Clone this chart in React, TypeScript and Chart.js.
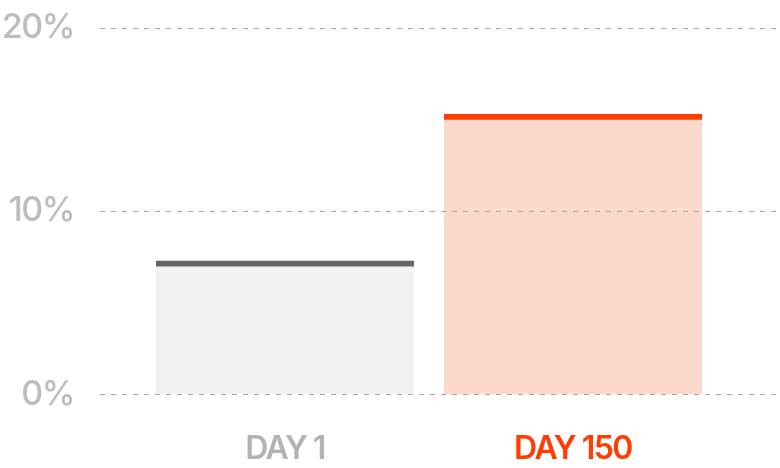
import React, { useEffect, useRef } from "react";
import { Chart, registerables } from "chart.js";

Chart.register(...registerables);

const categories = ["DAY 1", "DAY 150"];
const positions = [1, 2];
const values = [7.3, 15.3];
const yTicks = [0, 10, 20];

const fillColors = ["#f2f2f2", "#fdd9cc"];
const capColors = ["#666666", "#ff3d00"];
const labelColors = ["#b3b3b3", "#ff3d00"];

export default function App() {
  const ref = useRef<HTMLCanvasElement | null>(null);

  useEffect(() => {
    if (!ref.current) return;
    const spacingPlugin = {
      id: "spacing",
      beforeDraw(chart: any) {
        (chart.ctx as any).letterSpacing = "-1.5px";
      },
    };
    const chart = new Chart(ref.current, {
      type: "bar",
      data: {
        datasets: [
          {
            data: positions.map((x, i) => ({ x, y: values[i] })),
            backgroundColor: fillColors,
            borderColor: capColors,
            borderWidth: { top: 6, left: 0, right: 0, bottom: 0 },
            borderSkipped: false,
            barThickness: 258,
          },
        ],
      },
      options: {
        animation: false,
        responsive: true,
        maintainAspectRatio: false,
        layout: { padding: { top: 28, right: 0, left: 0, bottom: 0 } },
        plugins: { legend: { display: false }, tooltip: { enabled: false } },
        scales: {
          x: {
            type: "linear",
            offset: false,
            min: 0.3576,
            max: 2.7187,
            grid: { display: false },
            border: { display: false },
            afterBuildTicks: (scale: any) => {
              scale.ticks = positions.map((v) => ({ value: v }));
            },
            afterFit: (scale: any) => {
              scale.height = 73.5;
            },
            ticks: {
              padding: 28,
              callback: (v: any) => categories[positions.indexOf(Number(v))] ?? "",
              color: (ctx: any) => labelColors[ctx.index] ?? "#b3b3b3",
              font: { family: "Inter", size: 32, weight: 600 },
              maxRotation: 0,
              autoSkip: false,
            },
          },
          y: {
            min: 0,
            max: 20,
            afterBuildTicks: (scale: any) => {
              scale.ticks = yTicks.map((v) => ({ value: v }));
            },
            afterFit: (scale: any) => {
              scale.width = 100;
              scale.paddingTop = 0;
              scale.paddingBottom = 0;
            },
            border: { display: false, dash: [5, 6] },
            grid: {
              color: "#a6a6a6",
              lineWidth: 1,
              drawTicks: false,
              z: 1,
            },
            ticks: {
              padding: 26,
              color: "#bdbdbd",
              font: { family: "Inter", size: 34, weight: 500 },
              callback: (v: any) => v + "%",
            },
          },
        },
      },
      plugins: [spacingPlugin],
    } as any);
    return () => chart.destroy();
  }, []);

  return (
    <div style={{ position: "fixed", left: 0, top: 0, width: 780, height: 468 }}>
      <canvas ref={ref} />
    </div>
  );
}
